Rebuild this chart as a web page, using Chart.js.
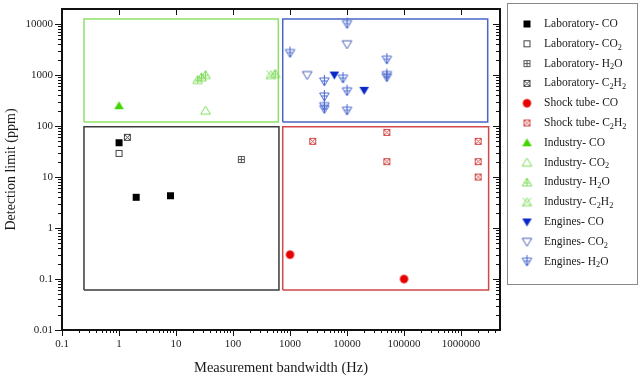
<!DOCTYPE html>
<html lang="en">
<head>
<meta charset="UTF-8">
<title>Detection limit vs measurement bandwidth</title>
<script src="https://cdn.jsdelivr.net/npm/chart.js@4.4.1/dist/chart.umd.min.js"></script>
<style>
  html, body { margin: 0; padding: 0; background: #fff; }
  #wrap { width: 640px; height: 387px; }
</style>
</head>
<body>
<div id="wrap"><canvas id="chart" width="640" height="387"></canvas></div>
<script>
// bandwidth in Hz (x) and detection limit in ppm (y)
const labCOx = [1, 2, 8];
const labCOy = [47, 4, 4.3];
const labCO2x = [1];
const labCO2y = [29];
const labH2Ox = [140];
const labH2Oy = [22];
const labC2H2x = [1.4];
const labC2H2y = [60];

const shockCOx = [1000, 100000];
const shockCOy = [0.3, 0.1];
const shockC2H2x = [2500, 50000, 50000, 2000000, 2000000, 2000000];
const shockC2H2y = [50, 75, 20, 50, 20, 10];

const indCOx = [1];
const indCOy = [250];
const indCO2x = [33];
const indCO2y = [200];
const indH2Ox = [24, 28, 33, 550];
const indH2Oy = [800, 900, 1000, 1050];
const indC2H2x = [460];
const indC2H2y = [1000];

const engCOx = [6000, 20000];
const engCOy = [1000, 500];
const engCO2x = [10000, 2000];
const engCO2y = [4000, 1000];
const engH2Ox = [10000, 1000, 50000, 50000, 50000, 4000, 8500, 10000, 4000, 4000, 4000, 10000];
const engH2Oy = [10000, 2700, 2000, 1000, 900, 750, 850, 480, 380, 245, 215, 200];

// group boxes: [low, high] on each axis
const industryBoxX = [0.243, 624];
const industryBoxY = [120, 12500];
const enginesBoxX = [745, 2940000];
const enginesBoxY = [120, 12500];
const labBoxX = [0.243, 640];
const labBoxY = [0.061, 97];
const shockBoxX = [745, 3050000];
const shockBoxY = [0.061, 97];

// labelled decades on the axes
const xDecades = [0.1, 1, 10, 100, 1000, 10000, 100000, 1000000];
const yDecades = [0.01, 0.1, 1, 10, 100, 1000, 10000];

const SERIF = '"Liberation Serif", "DejaVu Serif", serif';

function pts(xs, ys) {
  return xs.map((v, i) => ({ x: v, y: ys[i] }));
}
function box(bx, by) {
  return [
    { x: bx[0], y: by[0] }, { x: bx[1], y: by[0] },
    { x: bx[1], y: by[1] }, { x: bx[0], y: by[1] }, { x: bx[0], y: by[0] }
  ];
}

// little canvases used as point styles
function makeMarker(kind, color) {
  const s = 15, m = 7.5;
  const c = document.createElement('canvas');
  c.width = s; c.height = s;
  const g = c.getContext('2d');
  g.strokeStyle = color; g.fillStyle = color; g.lineWidth = 1;
  const line = (x1, y1, x2, y2) => { g.beginPath(); g.moveTo(x1, y1); g.lineTo(x2, y2); g.stroke(); };
  if (kind.startsWith('square')) {
    if (kind === 'square-filled') {
      g.fillRect(4, 4, 7, 7);
    } else {
      g.strokeRect(4.5, 4.5, 6, 6);
      if (kind === 'square-plus') { line(7.5, 4.5, 7.5, 10.5); line(4.5, 7.5, 10.5, 7.5); }
      if (kind === 'square-x') { line(4.5, 4.5, 10.5, 10.5); line(10.5, 4.5, 4.5, 10.5); }
    }
  } else if (kind === 'circle-filled') {
    g.beginPath(); g.arc(m, m, 4.2, 0, Math.PI * 2); g.fill();
  } else if (kind.startsWith('tri')) {
    g.beginPath(); g.moveTo(m, m - 4.5); g.lineTo(m + 4.8, m + 3.5); g.lineTo(m - 4.8, m + 3.5); g.closePath();
    if (kind === 'tri-filled') g.fill(); else g.stroke();
    if (kind === 'tri-plus') { line(m, m - 4.5, m, m + 3.5); line(m - 3, m + 0.5, m + 3, m + 0.5); }
    if (kind === 'tri-x') { line(m - 4.5, m - 4.5, m + 4.5, m + 4.5); line(m + 4.5, m - 4.5, m - 4.5, m + 4.5); }
  } else if (kind.startsWith('dtri')) {
    g.beginPath(); g.moveTo(m - 4.8, m - 3.5); g.lineTo(m + 4.8, m - 3.5); g.lineTo(m, m + 4.5); g.closePath();
    if (kind === 'dtri-filled') g.fill(); else g.stroke();
    if (kind === 'dtri-plus') { line(m, m - 6.5, m, m + 4.5); line(m - 3, m - 0.5, m + 3, m - 0.5); }
  }
  return c;
}

function series(label, xs, ys, kind, color) {
  return {
    label: label,
    data: pts(xs, ys),
    marker: true,
    pointStyle: makeMarker(kind, color),
    pointRadius: 5,
    showLine: false
  };
}
function outline(bx, by, color) {
  return {
    label: '',
    data: box(bx, by),
    showLine: true,
    pointRadius: 0,
    borderColor: color,
    borderWidth: 1.5,
    fill: false
  };
}

const datasets = [
  series('Laboratory- CO', labCOx, labCOy, 'square-filled', '#000000'),
  series('Laboratory- CO₂', labCO2x, labCO2y, 'square', '#444444'),
  series('Laboratory- H₂O', labH2Ox, labH2Oy, 'square-plus', '#555555'),
  series('Laboratory- C₂H₂', labC2H2x, labC2H2y, 'square-x', '#444444'),
  series('Shock tube- CO', shockCOx, shockCOy, 'circle-filled', '#e60000'),
  series('Shock tube- C₂H₂', shockC2H2x, shockC2H2y, 'square-x', '#d44a4a'),
  series('Industry- CO', indCOx, indCOy, 'tri-filled', '#44d400'),
  series('Industry- CO₂', indCO2x, indCO2y, 'tri', '#7edc5a'),
  series('Industry- H₂O', indH2Ox, indH2Oy, 'tri-plus', '#7edc5a'),
  series('Industry- C₂H₂', indC2H2x, indC2H2y, 'tri-x', '#8ee070'),
  series('Engines- CO', engCOx, engCOy, 'dtri-filled', '#0a28c8'),
  series('Engines- CO₂', engCO2x, engCO2y, 'dtri', '#4a5fb8'),
  series('Engines- H₂O', engH2Ox, engH2Oy, 'dtri-plus', '#4a68d0'),
  outline(industryBoxX, industryBoxY, '#8fe068'),
  outline(enginesBoxX, enginesBoxY, '#4a66c4'),
  outline(labBoxX, labBoxY, '#3a3a3a'),
  outline(shockBoxX, shockBoxY, '#d04848')
];

function isDecade(v, list) {
  return list.some(d => Math.abs(Math.log10(v) - Math.log10(d)) < 1e-6);
}
function decadeLabel(v) {
  return String(Number(v.toPrecision(1)));
}

// text with subscript digits drawn smaller and lower
const SUB = '₀₁₂₃₄₅₆₇₈₉';
function drawRich(ctx, text, x, y, size) {
  let cx = x;
  let run = '', runSub = false;
  const flush = () => {
    if (!run) return;
    const sz = runSub ? size * 0.72 : size;
    ctx.font = sz + 'px ' + SERIF;
    ctx.fillText(run, cx, runSub ? y + size * 0.32 : y);
    cx += ctx.measureText(run).width;
    run = '';
  };
  for (const ch of text) {
    const k = SUB.indexOf(ch);
    const sub = k >= 0;
    if (sub !== runSub) { flush(); runSub = sub; }
    run += sub ? String(k) : ch;
  }
  flush();
}

const frameAndLegend = {
  id: 'frameAndLegend',
  afterDraw(chart) {
    const { ctx, chartArea: a, scales: { x, y } } = chart;
    ctx.save();
    ctx.strokeStyle = '#111';
    ctx.lineWidth = 1;

    const tickList = (scale, decades) => {
      const out = [];
      decades.forEach(d => {
        for (let k = 1; k <= 9; k++) {
          const v = k * d;
          if (v >= scale.min * 0.999 && v <= scale.max) out.push({ v: v, major: k === 1 });
        }
      });
      return out;
    };
    const seg = (x1, y1, x2, y2) => { ctx.beginPath(); ctx.moveTo(x1, y1); ctx.lineTo(x2, y2); ctx.stroke(); };

    tickList(x, xDecades).forEach(t => {
      const px = Math.round(x.getPixelForValue(t.v)) + 0.5;
      seg(px, a.bottom, px, a.bottom + (t.major ? 6 : 3));
      if (t.major) seg(px, a.top, px, a.top + 6);
    });
    tickList(y, yDecades).forEach(t => {
      const py = Math.round(y.getPixelForValue(t.v)) + 0.5;
      seg(a.left, py, a.left - (t.major ? 7 : 4), py);
      seg(a.right, py, a.right - (t.major ? 7 : 4), py);
    });

    ctx.lineWidth = 2;
    ctx.strokeRect(a.left, a.top, a.right - a.left, a.bottom - a.top);

    // legend
    ctx.lineWidth = 1;
    ctx.strokeStyle = '#8a8a8a';
    ctx.strokeRect(507.5, 3.5, 130, 281);
    ctx.fillStyle = '#1a1a1a';
    ctx.textBaseline = 'middle';
    ctx.textAlign = 'left';
    let i = 0;
    chart.data.datasets.forEach(ds => {
      if (!ds.marker) return;
      const ly = 24 + i * 19.8;
      const img = ds.pointStyle;
      ctx.drawImage(img, 527 - img.width / 2, ly - img.height / 2);
      drawRich(ctx, ds.label, 544, ly, 11.5);
      i++;
    });
    ctx.restore();
  }
};

new Chart(document.getElementById('chart'), {
  type: 'scatter',
  data: { datasets: datasets },
  options: {
    responsive: false,
    devicePixelRatio: 1,
    animation: false,
    layout: { padding: { left: 0, right: 140, top: 9, bottom: 0 } },
    plugins: { legend: { display: false }, tooltip: { enabled: false } },
    scales: {
      x: {
        type: 'logarithmic',
        min: 0.1,
        max: 4830000,
        grid: { display: false, drawTicks: false },
        border: { display: false },
        afterFit: s => { s.height = 57; s.paddingLeft = 0; s.paddingRight = 0; },
        ticks: {
          autoSkip: false,
          maxRotation: 0,
          padding: 8,
          color: '#222',
          font: { family: SERIF, size: 11 },
          callback: v => isDecade(v, xDecades) ? decadeLabel(v) : ''
        },
        title: {
          display: true,
          text: 'Measurement bandwidth (Hz)',
          color: '#1a1a1a',
          font: { family: SERIF, size: 14.5 },
          padding: { top: 0, bottom: 10 }
        }
      },
      y: {
        type: 'logarithmic',
        min: 0.01,
        max: 19700,
        grid: { display: false, drawTicks: false },
        border: { display: false },
        afterFit: s => { s.width = 62; s.paddingTop = 0; s.paddingBottom = 0; },
        ticks: {
          autoSkip: false,
          padding: 9,
          color: '#222',
          font: { family: SERIF, size: 11 },
          callback: v => isDecade(v, yDecades) ? decadeLabel(v) : ''
        },
        title: {
          display: true,
          text: 'Detection limit (ppm)',
          color: '#1a1a1a',
          font: { family: SERIF, size: 14 },
          padding: { top: 3, bottom: 0 }
        }
      }
    }
  },
  plugins: [frameAndLegend]
});
</script>
</body>
</html>
